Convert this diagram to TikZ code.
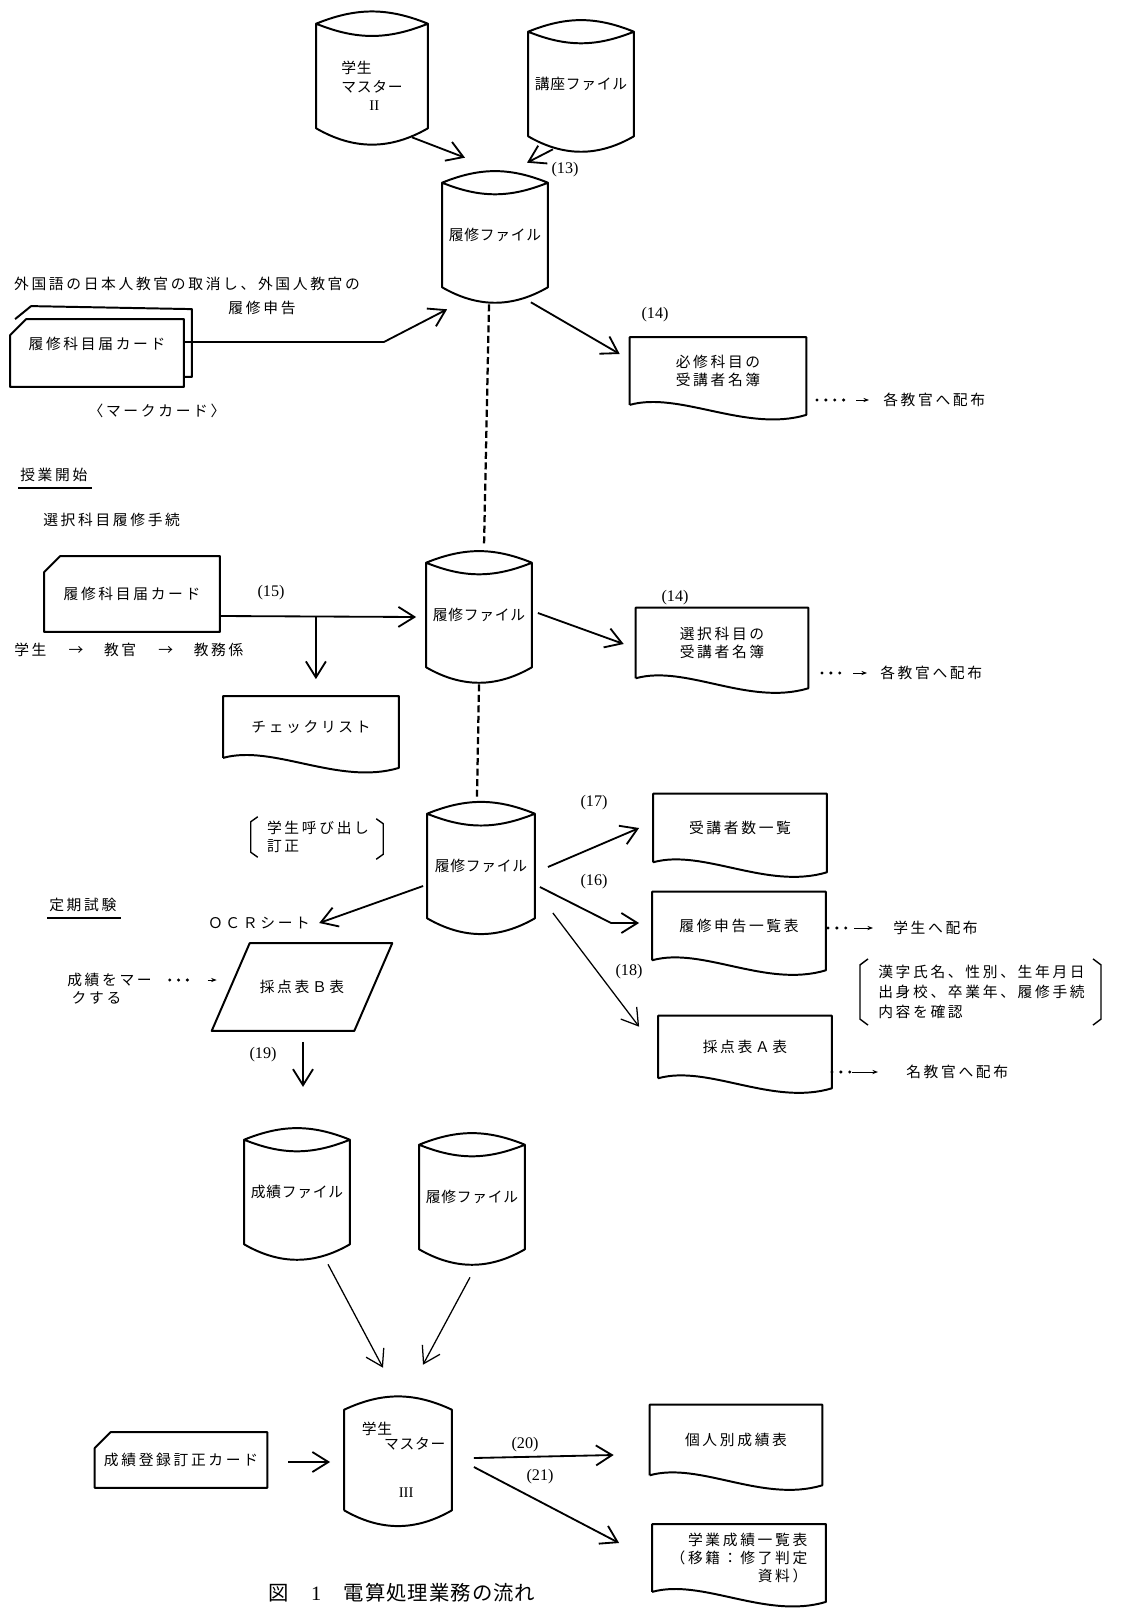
\documentclass[tikz,border=0pt]{standalone}
\usepackage{fontspec}
\setmainfont{Liberation Serif}
\newfontfamily\jp[LetterSpace=18]{Noto Sans CJK JP}
\newfontfamily\jpc[LetterSpace=5]{Noto Sans CJK JP}
\usetikzlibrary{arrows.meta,calc}

\tikzset{
  lbl/.style={font=\jp\fontsize{10.5}{13}\selectfont, inner sep=0pt},
  clbl/.style={font=\jpc\fontsize{10.5}{13}\selectfont, inner sep=0pt},
  num/.style={font=\fontsize{11.5}{13}\selectfont, inner sep=0pt},
  disk/.style={clbl, minimum width=2.63cm, minimum height=2.6cm, align=center},
  doc/.style={lbl, minimum width=4.33cm, minimum height=1.7cm, align=center},
  card/.style={lbl, minimum width=4.33cm, minimum height=1.7cm},
  shp/.style={line width=1.4pt, line join=round},
  flow/.style={line width=1.3pt, -{Straight Barb[length=4mm,width=5mm]}},
  thinflow/.style={line width=0.9pt, -{Straight Barb[length=4mm,width=5mm]}},
  link/.style={line width=1.6pt, dash pattern=on 5pt off 2.5pt},
  dotrow/.style={line width=2.4pt, line cap=round, dash pattern=on 0pt off 6.3pt},
  pointer/.style={line width=0.7pt, -{Stealth[length=4pt,width=3pt]}},
}

\begin{document}
\begin{tikzpicture}[x=0.025cm, y=-0.025cm]
\path[fill=white] (0,0) rectangle (1123,1608);
\useasboundingbox (0,0) rectangle (1123,1608);

% files
\node[disk, minimum width=2.78cm, label={[clbl,align=left,yshift=-0.25cm]center:学生\\マスター\\\hspace*{1.9em}{\rmfamily II}}] (smA) at (372,76) {};
\node[disk] (kza) at (581,84) {講座ファイル};
\node[disk] (rsA) at (495,235) {履修ファイル};
\node[disk] (rsB) at (479,615) {履修ファイル};
\node[disk, minimum width=2.68cm] (rsC) at (481,866) {履修ファイル};
\node[disk] (sei) at (297,1192) {成績ファイル};
\node[disk] (rsD) at (472,1197) {履修ファイル};
\node[disk, minimum width=2.68cm, minimum height=2.5cm, label={[clbl,align=left,xshift=0.14cm]center:学生\\[-2.4pt]\hspace*{1.5em}マスター\\[21pt]\hspace*{2.5em}{\rmfamily III}}] (smB) at (398,1460) {};

% lists
\node[doc, minimum width=4.4cm, minimum height=1.68cm] (docA) at (718,371) {必修科目の\\受講者名簿};
\node[doc, minimum width=4.3cm, minimum height=1.75cm] (docB) at (722,643) {選択科目の\\受講者名簿};
\node[doc, minimum width=4.38cm, minimum height=1.53cm] (docC) at (311,727) {チェックリスト};
\node[doc] (docD) at (740,828) {受講者数一覧};
\node[doc] (docE) at (739,926) {履修申告一覧表};
\node[doc, minimum height=1.55cm] (docF) at (745,1047) {採点表Ａ表};
\node[doc, minimum width=4.3cm, minimum height=1.75cm] (docG) at (736,1440) {個人別成績表};
\node[doc, minimum height=1.68cm, align=right] (docH) at (739,1558) {学業成績一覧表\\（移籍：修了判定\\資料）};

% cards
\node[card, minimum height=1.68cm, text depth=0.5cm] (cardA) at (97,353) {履修科目届カード};
\node[card, minimum width=4.38cm, minimum height=1.88cm] (cardB) at (132,594) {履修科目届カード};
\node[card, minimum width=4.3cm, minimum height=1.38cm] (cardC) at (181,1460) {成績登録訂正カード};
\node[lbl, minimum width=4.5cm, minimum height=2.18cm] (ocrB) at (302,987) {採点表Ｂ表};

\foreach \n in {smA,kza,rsA,rsB,rsC,sei,rsD}
  \draw[shp] (\n.north west) to[bend left=22] (\n.north east) to[bend left=22] (\n.north west)
    -- (\n.south west) to[bend right=30] (\n.south east) -- (\n.north east);
\draw[shp] (smB.south west) -- (smB.north west) to[bend left=25] (smB.north east)
  -- (smB.south east) to[bend left=30] (smB.south west);

\foreach \n in {docA,docB,docC,docD,docE,docF,docG,docH}
  \draw[shp] (\n.south west) -- (\n.north west) -- (\n.north east) -- ($(\n.south east)+(0,10)$)
    .. controls ($(\n.south east)+(-60,28)$) and ($(\n.south west)+(50,-14)$) .. (\n.south west);

\foreach \n in {cardA,cardB,cardC}
  \draw[shp] ($(\n.north west)+(0,16)$) -- ($(\n.north west)+(16,0)$) -- (\n.north east)
    -- (\n.south east) -- (\n.south west) -- cycle;
\draw[shp] ($(cardA.north west)+(5,0)$) -- ($(cardA.north west)+(21,-13)$) -- ($(cardA.north east)+(8,-10)$)
  -- ($(cardA.south east)+(8,-10)$) -- ($(cardA.south east)+(0,-10)$);
\draw[shp] ($(ocrB.north west)+(38,0)$) -- (ocrB.north east) -- ($(ocrB.south east)+(-38,0)$)
  -- (ocrB.south west) -- cycle;

% labels
\node[lbl] (gaikoku) at (187,284) {外国語の日本人教官の取消し、外国人教官の};
\node[lbl] (shinkoku) at (262,308) {履修申告};
\node[lbl] (markcard) at (157,411) {〈マークカード〉};
\node[lbl, anchor=west] (kaishi) at (20,475) {授業開始};
\node[lbl, anchor=west] (tetsuzuki) at (43,520) {選択科目履修手続};
\node[lbl, anchor=west] (route) at (14,650) {学生\hspace{1.5em}→\hspace{1.4em}教官\hspace{1.5em}→\hspace{1.4em}教務係};
\node[lbl, align=left] (callA) at (318,837) {学生呼び出し\\訂正};
\node[lbl, anchor=west] (teiki) at (49,905) {定期試験};
\node[lbl] (ocr) at (259,923) {ＯＣＲシート};
\node[lbl, align=left, anchor=west] (markB) at (67,989) {成績をマー\\\hspace*{0.3em}クする};
\node[lbl, anchor=west] (dist1) at (883,400) {各教官へ配布};
\node[lbl, anchor=west] (dist2) at (880,673) {各教官へ配布};
\node[lbl, anchor=west] (dist3) at (893,928) {学生へ配布};
\node[lbl, anchor=west] (dist4) at (906,1072) {名教官へ配布};
\node[lbl, align=left, anchor=west, font=\jp\fontsize{10.5}{14.2}\selectfont] (kakunin) at (878,992)
  {漢字氏名、性別、生年月日\\出身校、卒業年、履修手続\\内容を確認};
\node[lbl, anchor=west, font=\jpc\fontsize{14.5}{16}\selectfont] (caption) at (268,1593)
  {図\hspace{1.1em}{\rmfamily 1}\hspace{1.1em}電算処理業務の流れ};

\node[num] (n13) at (565,170) {(13)};
\node[num] (n14a) at (655,315) {(14)};
\node[num] (n15) at (271,593) {(15)};
\node[num] (n14b) at (675,598) {(14)};
\node[num] (n17) at (594,803) {(17)};
\node[num] (n16) at (594,882) {(16)};
\node[num] (n18) at (629,972) {(18)};
\node[num] (n19) at (263,1055) {(19)};
\node[num] (n20) at (525,1445) {(20)};
\node[num] (n21) at (540,1477) {(21)};

\draw[line width=0.9pt] ($(kaishi.south west)+(-2,6)$) -- ($(kaishi.south east)+(4,6)$);
\draw[line width=0.9pt] ($(teiki.south west)+(-2,6)$) -- ($(teiki.south east)+(4,6)$);
\draw[line width=1pt] ($(callA.north west)+(-9,-4)$) -- ($(callA.north west)+(-16,1)$)
  -- ($(callA.south west)+(-16,-1)$) -- ($(callA.south west)+(-9,4)$);
\draw[line width=1pt] ($(callA.north east)+(7,-2)$) -- ($(callA.north east)+(14,3)$)
  -- ($(callA.south east)+(14,1)$) -- ($(callA.south east)+(7,6)$);
\draw[line width=1pt] ($(kakunin.north west)+(-10,-6)$) -- ($(kakunin.north west)+(-18,0)$)
  -- ($(kakunin.south west)+(-18,0)$) -- ($(kakunin.south west)+(-10,6)$);
\draw[line width=1pt] ($(kakunin.north east)+(8,-6)$) -- ($(kakunin.north east)+(16,0)$)
  -- ($(kakunin.south east)+(16,0)$) -- ($(kakunin.south east)+(8,6)$);

% flow
\draw[flow] ($(smA.south east)+(-16,9)$) -- ($(rsA.north)+(-30,-25)$);
\draw[flow] ($(kza.south)+(-28,13)$) -- ($(rsA.north)+(32,-20)$);
\draw[flow] ($(cardA.east)+(0,-11)$) -- ++(200,0) -- ($(rsA.south west)+(5,22)$);
\draw[flow] ($(rsA.south east)+(-17,15)$) -- ($(docA.west)+(-10,-17)$);
\draw[link] ($(rsA.south)+(-6,17)$) -- ($(rsB.north)+(5,-16)$);
\draw[flow] ($(cardB.east)+(0,22)$) -- ($(rsB.west)+(-10,2)$);
\coordinate (br) at ($(cardB.east)+(96,22)$);
\draw[flow] (br) -- ($(br |- docC.north)+(0,-17)$);
\draw[flow] ($(rsB.east)+(6,-2)$) -- ($(docB.west)+(-12,1)$);
\draw[link] ($(rsB.south)+(0,17)$) -- ($(rsC.north)+(-4,-17)$);
\draw[flow] ($(rsC.west)+(-4,20)$) -- ($(ocr.east)+(9,0)$);
\draw[flow] ($(rsC.east)+(13,1)$) -- ($(docD.west)+(-14,0)$);
\draw[flow] ($(rsC.east)+(5,21)$) -- ($(docE.west)+(-41,-3)$) -- ($(docE.west)+(-13,-3)$);
\draw[thinflow] ($(rsC.east)+(18,47)$) -- ($(docF.north west)+(-19,11)$);
\draw[flow] ($(ocrB.south)+(1,11)$) -- ++(0,45);
\draw[thinflow] ($(sei.south)+(31,20)$) -- ($(smB.north)+(-15,-42)$);
\draw[thinflow] ($(rsD.south)+(-2,28)$) -- ($(smB.north)+(25,-45)$);
\draw[flow] ($(cardC.east)+(21,2)$) -- ($(smB.west)+(-14,2)$);
\draw[flow] ($(smB.east)+(22,-2)$) -- ($(docG.west)+(-36,15)$);
\draw[flow] ($(smB.east)+(22,7)$) -- ($(docH.west)+(-33,-15)$);

% hand-outs
\draw[dotrow] ($(dist1.west)+(-66,0)$) -- ($(dist1.west)+(-38,0)$);
\draw[pointer] ($(dist1.west)+(-27,0)$) -- ($(dist1.west)+(-14,0)$);
\draw[dotrow] ($(dist2.west)+(-58,0)$) -- ($(dist2.west)+(-38,0)$);
\draw[pointer] ($(dist2.west)+(-27,0)$) -- ($(dist2.west)+(-13,0)$);
\draw[dotrow] ($(dist3.west)+(-65,0)$) -- ($(dist3.west)+(-45,0)$);
\draw[pointer] ($(dist3.west)+(-39,0)$) -- ($(dist3.west)+(-20,0)$);
\draw[dotrow] ($(dist4.west)+(-74,0)$) -- ($(dist4.west)+(-54,0)$);
\draw[pointer] ($(dist4.west)+(-54,0)$) -- ($(dist4.west)+(-28,0)$);
\draw[dotrow] ($(ocrB.west)+(-42,-7)$) -- ($(ocrB.west)+(-22,-7)$);
\draw[pointer] ($(ocrB.west)+(-4,-7)$) -- ($(ocrB.west)+(5,-7)$);
\end{tikzpicture}
\end{document}
